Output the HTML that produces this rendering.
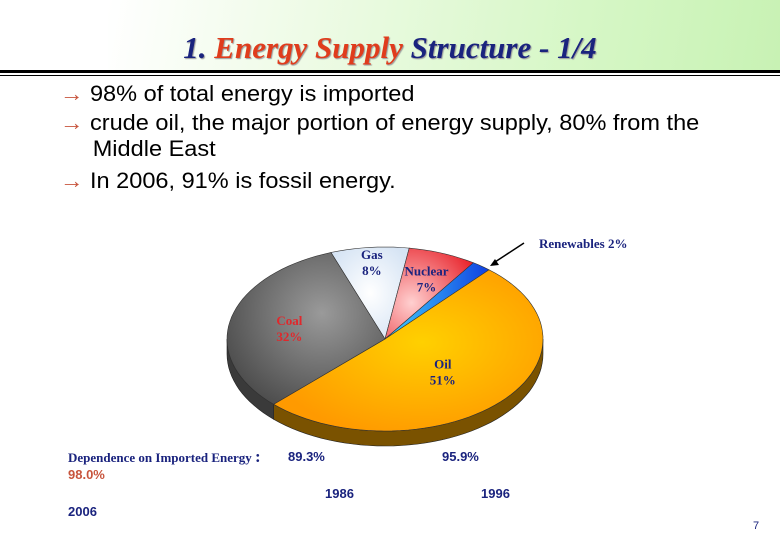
<!DOCTYPE html>
<html><head><meta charset="utf-8"><style>
body{margin:0;width:780px;height:540px;overflow:hidden;background:#fff;font-family:"Liberation Sans",sans-serif;position:relative}
.bg{position:absolute;left:108px;top:0;width:672px;height:72px;background:linear-gradient(100deg,#ffffff 0%,#eefbe6 30%,#d6f7c6 70%,#c8f2b4 100%)}
.title{position:absolute;left:0;width:780px;top:30px;text-align:center;font-family:"Liberation Serif",serif;font-style:italic;font-weight:bold;font-size:31px;letter-spacing:0px;color:#1a237e;text-shadow:1px 1px 1px #999}
.rule1{position:absolute;left:0;top:70px;width:780px;height:3px;background:#000}
.rule2{position:absolute;left:0;top:75px;width:780px;height:1px;background:#000}
.b{position:absolute;left:60px;font-size:22px;color:#000;line-height:26px;transform-origin:0 0;transform:scaleX(1.07)}
.b span{color:#c8553d;margin-right:6px}
</style></head><body>
<div class="bg"></div>
<div class="title">1. <span style="color:#e03c1c">Energy Supply</span> Structure - 1/4</div>
<div class="rule1"></div>
<div class="rule2"></div>
<div class="b" style="top:81px"><span>→</span>98% of total energy is imported</div>
<div class="b" style="top:110px"><span>→</span>crude oil, the major portion of energy supply, 80% from the<br>&nbsp;&nbsp;&nbsp;&nbsp;&nbsp;Middle East</div>
<div class="b" style="top:168px"><span>→</span>In 2006, 91% is fossil energy.</div>
<svg id="pie" width="780" height="540" style="position:absolute;left:0;top:0">
<defs>
<radialGradient id="gGas" cx="0.5" cy="0.5" r="0.6"><stop offset="0" stop-color="#ffffff"/><stop offset="1" stop-color="#d6e4f4"/></radialGradient>
<radialGradient id="gNuc" cx="0.3" cy="0.6" r="0.8"><stop offset="0" stop-color="#ffd0d0"/><stop offset="1" stop-color="#e8242c"/></radialGradient>
<linearGradient id="gRen" x1="0" y1="0" x2="1" y2="0"><stop offset="0" stop-color="#40d0ff"/><stop offset="1" stop-color="#1040e0"/></linearGradient>
<radialGradient id="gOil" cx="0.55" cy="0.45" r="0.6"><stop offset="0" stop-color="#ffd000"/><stop offset="1" stop-color="#ff9a00"/></radialGradient>
<radialGradient id="gCoal" cx="0.6" cy="0.4" r="0.7"><stop offset="0" stop-color="#9a9a9a"/><stop offset="1" stop-color="#4a4a4a"/></radialGradient>
</defs>
<g id="pieg"></g>
<text x="539" y="248" font-family="Liberation Serif" font-weight="bold" font-size="13" fill="#1a237e">Renewables 2%</text>
<line x1="524" y1="243" x2="495" y2="262" stroke="#000" stroke-width="1.5"/>
<polygon points="490,266 499,265 495,259" fill="#000"/>
</svg>
<div style="position:absolute;left:68px;top:447px;font-family:'Liberation Serif',serif;font-weight:bold;font-size:13px;color:#1a237e">Dependence on Imported Energy <b style="font-size:17px">:</b></div>
<div style="position:absolute;left:288px;top:449px;font-weight:bold;font-size:13px;color:#1a237e">89.3%</div>
<div style="position:absolute;left:442px;top:449px;font-weight:bold;font-size:13px;color:#1a237e">95.9%</div>
<div style="position:absolute;left:68px;top:467px;font-weight:bold;font-size:13px;color:#c8553d">98.0%</div>
<div style="position:absolute;left:325px;top:486px;font-weight:bold;font-size:13px;color:#1a237e">1986</div>
<div style="position:absolute;left:481px;top:486px;font-weight:bold;font-size:13px;color:#1a237e">1996</div>
<div style="position:absolute;left:68px;top:504px;font-weight:bold;font-size:13px;color:#1a237e">2006</div>
<div style="position:absolute;left:753px;top:520px;font-size:11px;color:#1a237e">7</div>
<script>
const categories=["Gas","Nuclear","Renewables","Oil","Coal"];
const shares=[8,7,2,51,32];
const fills=["url(#gGas)","url(#gNuc)","url(#gRen)","url(#gOil)","url(#gCoal)"];
const sides=["#b8c4d4","#a01818","#1030a0","#7a5200","#3a3a3a"];
const labelText=[["Gas","8%"],["Nuclear","7%"],["",""],["Oil","51%"],["Coal","32%"]];
const labelColor=["#1a237e","#1a237e","#1a237e","#1a237e","#e0282c"];
const cx=385,cy=339,rx=158,ry=92,depth=15,startDeg=-110;
const NS="http://www.w3.org/2000/svg";
const g=document.getElementById('pieg');
const total=shares.reduce((a,b)=>a+b,0);
function pt(deg,dy){const r=deg*Math.PI/180;return [cx+rx*Math.cos(r),cy+ry*Math.sin(r)+(dy||0)];}
function arc(a,b,dy){let d='';const n=Math.max(2,Math.ceil(Math.abs(b-a)/3));for(let i=0;i<=n;i++){const p=pt(a+(b-a)*i/n,dy);d+=(i?'L':'')+p[0].toFixed(1)+','+p[1].toFixed(1);}return d;}
let ang=startDeg;const spans=[];
shares.forEach(v=>{const s=v/total*360;spans.push([ang,ang+s]);ang+=s;});
spans.forEach((sp,i)=>{
  for(const off of [0,360,-360]){
    const a=Math.max(sp[0]+off,0),b=Math.min(sp[1]+off,180);
    if(b>a){
      const p=document.createElementNS(NS,'path');
      p.setAttribute('d','M'+arc(a,b,0)+'L'+arc(b,a,depth)+'Z');
      p.setAttribute('fill',sides[i]);p.setAttribute('stroke','#222');p.setAttribute('stroke-width','0.6');
      
      
      g.appendChild(p);
    }
  }
});
spans.forEach((sp,i)=>{
  const p=document.createElementNS(NS,'path');
  p.setAttribute('d','M'+cx+','+cy+'L'+arc(sp[0],sp[1],0)+'Z');
  p.setAttribute('fill',fills[i]);p.setAttribute('stroke','#333');p.setAttribute('stroke-width','0.6');
  
  
  g.appendChild(p);
});
const lr=[0.85,0.72,0,0.5,0.62];
spans.forEach((sp,i)=>{
  if(!labelText[i][0])return;
  const m=(sp[0]+sp[1])/2*Math.PI/180;
  const x=cx+rx*lr[i]*Math.cos(m),y=cy+ry*lr[i]*Math.sin(m);
  labelText[i].forEach((t,k)=>{
    const tx=document.createElementNS(NS,'text');
    tx.setAttribute('x',x);tx.setAttribute('y',y-2+k*16);
    tx.setAttribute('text-anchor','middle');
    tx.setAttribute('font-family','Liberation Serif');tx.setAttribute('font-weight','bold');tx.setAttribute('font-size','13');
    tx.setAttribute('fill',labelColor[i]);
    
    
    tx.textContent=t;g.appendChild(tx);
  });
});
</script>
</body></html>
